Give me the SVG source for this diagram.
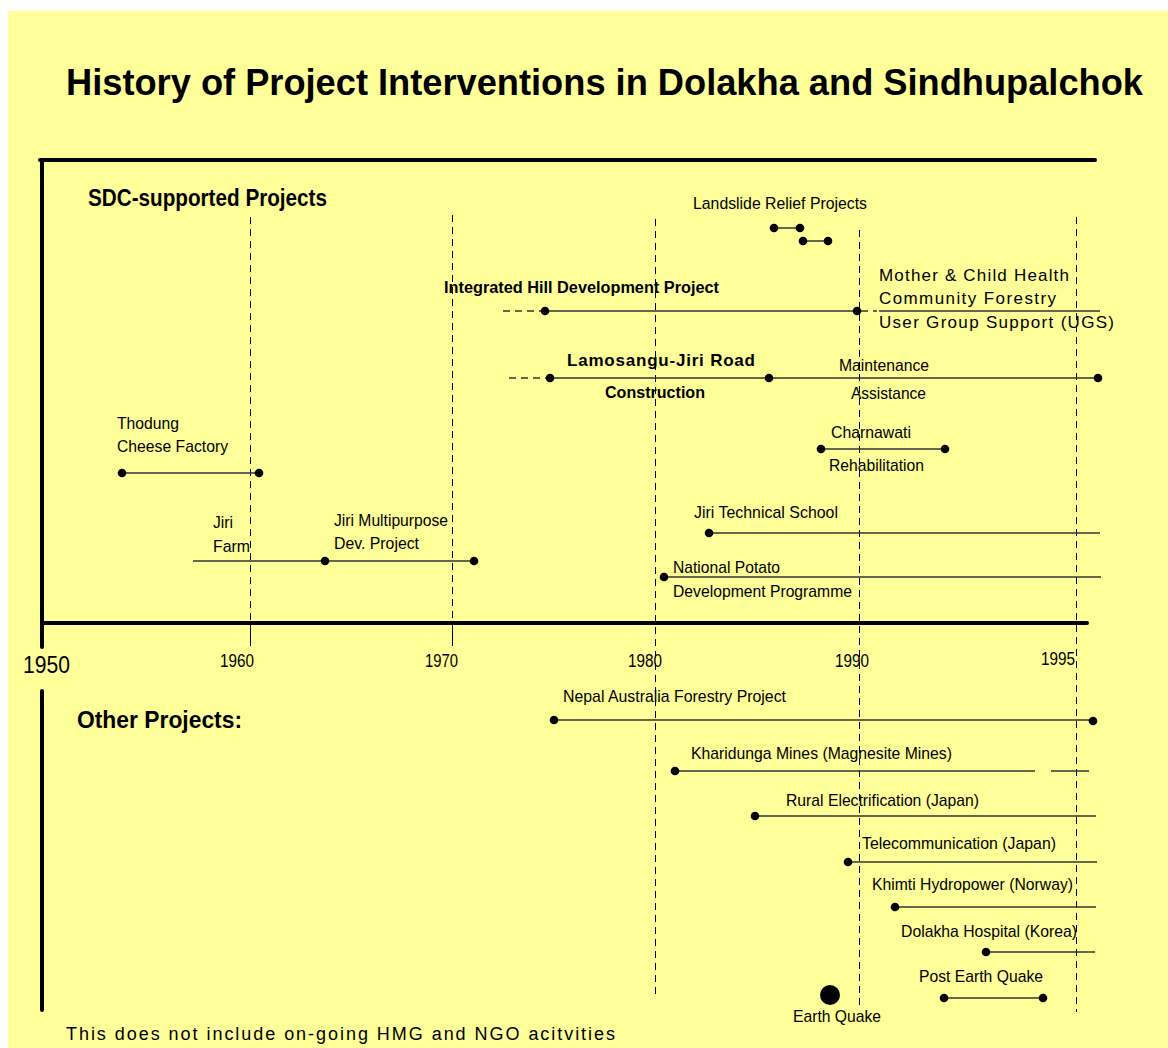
<svg xmlns="http://www.w3.org/2000/svg" width="1168" height="1048" viewBox="0 0 1168 1048">
<style>
text{font-family:"Liberation Sans",Arial,sans-serif;fill:#000}
.t{font-size:17px}
.b{font-weight:bold}
.ax{font-size:18px}
.grid{stroke:#000;stroke-width:1;stroke-dasharray:7 5;fill:none;shape-rendering:crispEdges}
.frame{stroke:#000;stroke-width:4;fill:none;stroke-linecap:round}
.bar{stroke:#333;stroke-width:1.5;fill:none}
.dbar{stroke:#333;stroke-width:1.5;stroke-dasharray:7 5;fill:none}
.dot{fill:#000}
</style>
<rect x="8" y="11" width="1160" height="1037" fill="#FFFF99"/>
<text x="66" y="95" class="b" font-size="36" textLength="1077" lengthAdjust="spacingAndGlyphs">History of Project Interventions in Dolakha and Sindhupalchok</text>

<g id="grid">
<line class="grid" x1="250.5" y1="217" x2="250.5" y2="623"/>
<line class="grid" x1="452.5" y1="215" x2="452.5" y2="623"/>
<line class="grid" x1="655.5" y1="219" x2="655.5" y2="995"/>
<line class="grid" x1="859.5" y1="230" x2="859.5" y2="1007"/>
<line class="grid" x1="1076.5" y1="217" x2="1076.5" y2="1012"/>
<line x1="250.5" y1="623" x2="250.5" y2="646" stroke="#000" stroke-width="1" shape-rendering="crispEdges"/>
<line x1="452.5" y1="623" x2="452.5" y2="646" stroke="#000" stroke-width="1" shape-rendering="crispEdges"/>
</g>

<g id="axes">
<line class="frame" x1="40" y1="160" x2="1095" y2="160"/>
<line class="frame" x1="42" y1="160" x2="42" y2="647"/>
<line class="frame" x1="42" y1="623" x2="1087" y2="623"/>
<line class="frame" x1="42" y1="691" x2="42" y2="1010"/>
<text x="23" y="673" font-size="24" textLength="47" lengthAdjust="spacingAndGlyphs">1950</text>
<text x="220" y="667" class="ax" textLength="34" lengthAdjust="spacingAndGlyphs">1960</text>
<text x="425" y="667" class="ax" textLength="33" lengthAdjust="spacingAndGlyphs">1970</text>
<text x="628" y="667" class="ax" textLength="34" lengthAdjust="spacingAndGlyphs">1980</text>
<text x="835" y="667" class="ax" textLength="34" lengthAdjust="spacingAndGlyphs">1990</text>
<text x="1041" y="665" class="ax" textLength="34" lengthAdjust="spacingAndGlyphs">1995</text>
</g>

<text id="sdc-heading" x="88" y="206" class="b" font-size="23" textLength="239" lengthAdjust="spacingAndGlyphs">SDC-supported Projects</text>
<text id="other-heading" x="77" y="728" class="b" font-size="23" textLength="165" lengthAdjust="spacingAndGlyphs">Other Projects:</text>

<g id="connectors">
<line class="bar" x1="774" y1="228" x2="800" y2="228"/>
<line class="bar" x1="803" y1="241" x2="828" y2="241"/>
<line class="dbar" x1="503" y1="311" x2="543" y2="311"/>
<line class="bar" x1="545" y1="311" x2="857" y2="311"/>
<line class="dbar" x1="861" y1="311" x2="877" y2="311"/>
<line class="bar" x1="879" y1="311" x2="1100" y2="311"/>
<line class="dbar" x1="509" y1="378" x2="548" y2="378"/>
<line class="bar" x1="550" y1="378" x2="1098" y2="378"/>
<line class="bar" x1="122" y1="473" x2="259" y2="473"/>
<line class="bar" x1="193" y1="561" x2="474" y2="561"/>
<line class="bar" x1="821" y1="449" x2="945" y2="449"/>
<line class="bar" x1="709" y1="533" x2="1100" y2="533"/>
<line class="bar" x1="664" y1="577" x2="1101" y2="577"/>
<line class="bar" x1="554" y1="720" x2="1090" y2="720"/>
<line class="bar" x1="675" y1="771" x2="1035" y2="771"/>
<line class="bar" x1="1051" y1="771" x2="1089" y2="771"/>
<line class="bar" x1="755" y1="816" x2="1096" y2="816"/>
<line class="bar" x1="848" y1="862" x2="1097" y2="862"/>
<line class="bar" x1="895" y1="907" x2="1096" y2="907"/>
<line class="bar" x1="986" y1="952" x2="1095" y2="952"/>
<line class="bar" x1="944" y1="998" x2="1043" y2="998"/>
</g>

<g id="landslide">
<text x="693" y="209" class="t" textLength="174" lengthAdjust="spacingAndGlyphs">Landslide Relief Projects</text>
<circle class="dot" cx="774" cy="228" r="4.3"/><circle class="dot" cx="800" cy="228" r="4.3"/>
<circle class="dot" cx="803" cy="241" r="4.3"/><circle class="dot" cx="828" cy="241" r="4.3"/>
</g>

<g id="ihdp">
<text x="444" y="293" class="b" font-size="16" textLength="275" lengthAdjust="spacingAndGlyphs">Integrated Hill Development Project</text>
<circle class="dot" cx="545" cy="311" r="4.3"/><circle class="dot" cx="857" cy="311" r="4.3"/>
</g>

<g id="mch">
<text x="879" y="281" class="t" textLength="190" lengthAdjust="spacing">Mother &amp; Child Health</text>
<text x="879" y="304" class="t" textLength="177" lengthAdjust="spacing">Community Forestry</text>
<text x="879" y="328" class="t" textLength="235" lengthAdjust="spacing">User Group Support (UGS)</text>
</g>

<g id="road">
<text x="567" y="366" class="b" font-size="17" textLength="188" lengthAdjust="spacing">Lamosangu-Jiri Road</text>
<text x="605" y="398" class="b" font-size="17" textLength="100" lengthAdjust="spacingAndGlyphs">Construction</text>
<circle class="dot" cx="550" cy="378" r="4.3"/><circle class="dot" cx="769" cy="378" r="4.3"/><circle class="dot" cx="1098" cy="378" r="4.3"/>
<text x="839" y="371" class="t" textLength="90" lengthAdjust="spacingAndGlyphs">Maintenance</text>
<text x="851" y="399" class="t" textLength="75" lengthAdjust="spacingAndGlyphs">Assistance</text>
</g>

<g id="thodung">
<text x="117" y="429" class="t" textLength="62" lengthAdjust="spacingAndGlyphs">Thodung</text>
<text x="117" y="452" class="t" textLength="111" lengthAdjust="spacingAndGlyphs">Cheese Factory</text>
<circle class="dot" cx="122" cy="473" r="4.3"/><circle class="dot" cx="259" cy="473" r="4.3"/>
</g>

<g id="charnawati">
<text x="831" y="438" class="t" textLength="80" lengthAdjust="spacingAndGlyphs">Charnawati</text>
<text x="829" y="471" class="t" textLength="95" lengthAdjust="spacingAndGlyphs">Rehabilitation</text>
<circle class="dot" cx="821" cy="449" r="4.3"/><circle class="dot" cx="945" cy="449" r="4.3"/>
</g>

<g id="jiri-farm">
<text x="213" y="528" class="t" textLength="20" lengthAdjust="spacingAndGlyphs">Jiri</text>
<text x="213" y="552" class="t" textLength="37" lengthAdjust="spacingAndGlyphs">Farm</text>
</g>

<g id="jiri-multipurpose">
<text x="334" y="526" class="t" textLength="114" lengthAdjust="spacingAndGlyphs">Jiri Multipurpose</text>
<text x="334" y="549" class="t" textLength="85" lengthAdjust="spacingAndGlyphs">Dev. Project</text>
<circle class="dot" cx="325" cy="561" r="4.3"/><circle class="dot" cx="474" cy="561" r="4.3"/>
</g>

<g id="jiri-technical">
<text x="694" y="518" class="t" textLength="144" lengthAdjust="spacingAndGlyphs">Jiri Technical School</text>
<circle class="dot" cx="709" cy="533" r="4.3"/>
</g>

<g id="potato">
<text x="673" y="573" class="t" textLength="107" lengthAdjust="spacingAndGlyphs">National Potato</text>
<text x="673" y="597" class="t" textLength="179" lengthAdjust="spacingAndGlyphs">Development Programme</text>
<circle class="dot" cx="664" cy="577" r="4.3"/>
</g>

<g id="nafp">
<text x="563" y="702" class="t" textLength="223" lengthAdjust="spacingAndGlyphs">Nepal Australia Forestry Project</text>
<circle class="dot" cx="554" cy="720" r="4.3"/><circle class="dot" cx="1093" cy="721" r="4.3"/>
</g>

<g id="kharidunga">
<text x="691" y="759" class="t" textLength="261" lengthAdjust="spacingAndGlyphs">Kharidunga Mines (Magnesite Mines)</text>
<circle class="dot" cx="675" cy="771" r="4.3"/>
</g>

<g id="rural">
<text x="786" y="806" class="t" textLength="193" lengthAdjust="spacingAndGlyphs">Rural Electrification (Japan)</text>
<circle class="dot" cx="755" cy="816" r="4.3"/>
</g>

<g id="telecom">
<text x="862" y="849" class="t" textLength="194" lengthAdjust="spacingAndGlyphs">Telecommunication (Japan)</text>
<circle class="dot" cx="848" cy="862" r="4.3"/>
</g>

<g id="khimti">
<text x="872" y="890" class="t" textLength="201" lengthAdjust="spacingAndGlyphs">Khimti Hydropower (Norway)</text>
<circle class="dot" cx="895" cy="907" r="4.3"/>
</g>

<g id="hospital">
<text x="901" y="937" class="t" textLength="176" lengthAdjust="spacingAndGlyphs">Dolakha Hospital (Korea)</text>
<circle class="dot" cx="986" cy="952" r="4.3"/>
</g>

<g id="post-quake">
<text x="919" y="982" class="t" textLength="124" lengthAdjust="spacingAndGlyphs">Post Earth Quake</text>
<circle class="dot" cx="944" cy="998" r="4.3"/><circle class="dot" cx="1043" cy="998" r="4.3"/>
</g>

<g id="earthquake">
<circle class="dot" cx="830" cy="995" r="10"/>
<text x="793" y="1022" class="t" textLength="88" lengthAdjust="spacingAndGlyphs">Earth Quake</text>
</g>

<text id="footnote" x="66" y="1040" font-size="18" textLength="549" lengthAdjust="spacing">This does not include on-going HMG and NGO acitvities</text>
</svg>
